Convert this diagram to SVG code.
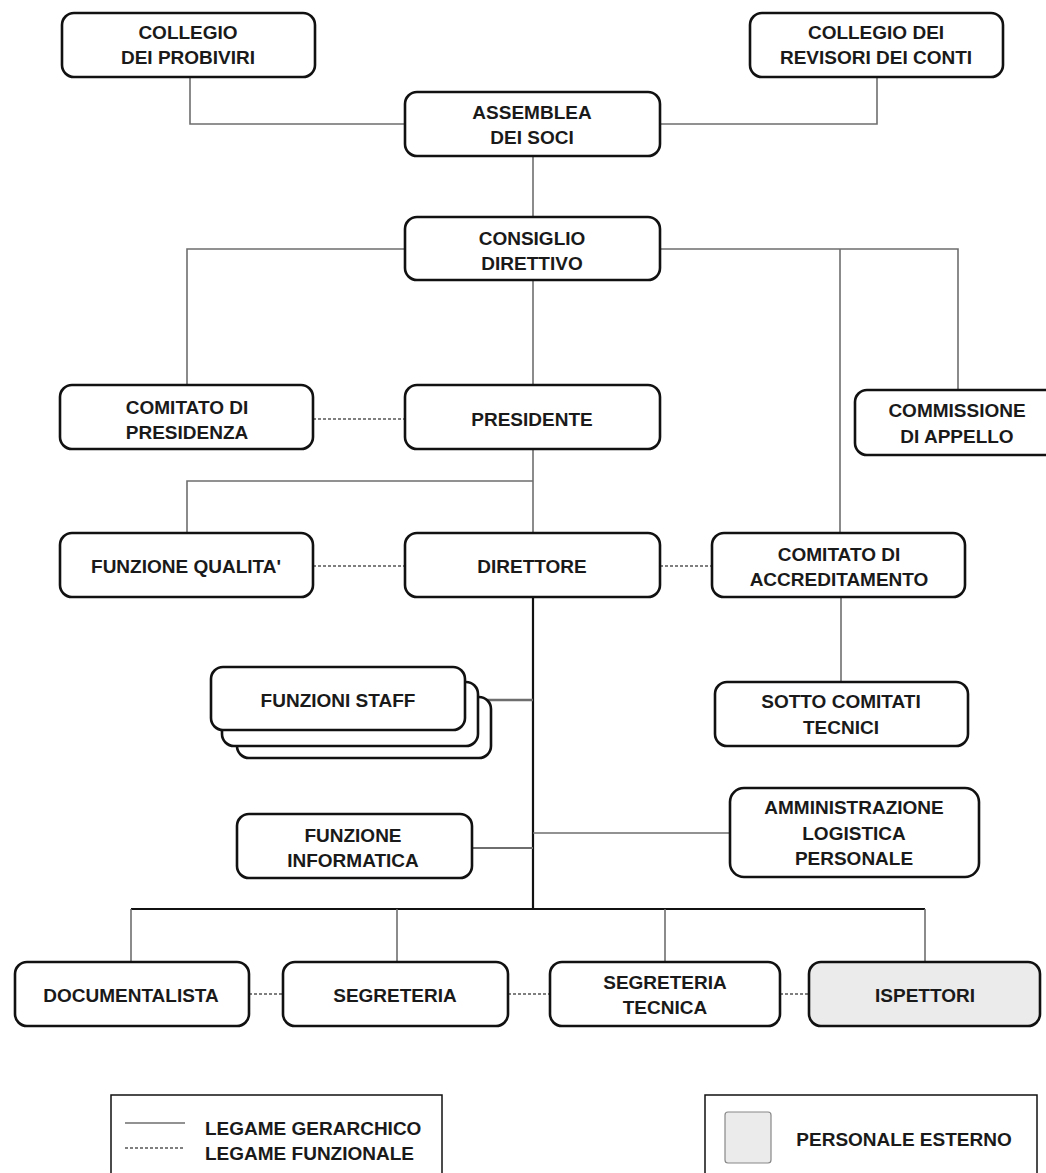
<svg xmlns="http://www.w3.org/2000/svg" width="1046" height="1173" viewBox="0 0 1046 1173">
<style>
.box{fill:#fff;stroke:#111;stroke-width:2.6}
.ext{fill:#ebebeb;stroke:#111;stroke-width:2.6}
.t{font-family:"Liberation Sans",Arial,sans-serif;font-weight:bold;font-size:19px;fill:#1a1a1a;text-anchor:middle}
.tl{font-family:"Liberation Sans",Arial,sans-serif;font-weight:bold;font-size:19px;fill:#1a1a1a}
.h{fill:none;stroke:#6e6e6e;stroke-width:1.6}
.hb{fill:none;stroke:#111;stroke-width:2.2}
.f{fill:none;stroke:#555;stroke-width:1.6;stroke-dasharray:3 2}
.leg{fill:#fff;stroke:#111;stroke-width:1.5}
</style>
<rect width="1046" height="1173" fill="#fff"/>
<g id="connectors">
<polyline class="h" points="190,77 190,124 405,124"/>
<polyline class="h" points="877,77 877,124 660,124"/>
<line class="h" x1="533" y1="156" x2="533" y2="217"/>
<polyline class="h" points="405,249 187,249 187,385"/>
<polyline class="h" points="660,249 958,249 958,390"/>
<line class="h" x1="840" y1="249" x2="840" y2="533"/>
<line class="h" x1="533" y1="280" x2="533" y2="385"/>
<line class="h" x1="533" y1="449" x2="533" y2="533"/>
<polyline class="h" points="533,481 187,481 187,533"/>
<line class="f" x1="313" y1="419" x2="405" y2="419"/>
<line class="f" x1="313" y1="566" x2="405" y2="566"/>
<line class="f" x1="660" y1="566" x2="712" y2="566"/>
<line class="h" x1="841" y1="597" x2="841" y2="682"/>
<line class="hb" x1="533" y1="597" x2="533" y2="910"/>
<line class="h" x1="465" y1="700" x2="533" y2="700" style="stroke-width:2.4"/>
<line class="h" x1="472" y1="848" x2="533" y2="848" style="stroke-width:2.2"/>
<line class="h" x1="533" y1="833" x2="730" y2="833"/>
<line class="hb" x1="131" y1="909" x2="925" y2="909" style="stroke-width:1.8"/>
<line class="h" x1="131" y1="909" x2="131" y2="962"/>
<line class="h" x1="397" y1="909" x2="397" y2="962"/>
<line class="h" x1="665" y1="909" x2="665" y2="962"/>
<line class="h" x1="925" y1="909" x2="925" y2="962"/>
<line class="f" x1="249" y1="994" x2="283" y2="994"/>
<line class="f" x1="508" y1="994" x2="550" y2="994"/>
<line class="f" x1="780" y1="994" x2="809" y2="994"/>
</g>
<g id="probiviri"><rect class="box" x="62" y="13" width="253" height="64" rx="12"/><text class="t" x="188" y="39">COLLEGIO</text><text class="t" x="188" y="64">DEI PROBIVIRI</text></g>
<g id="revisori"><rect class="box" x="750" y="13" width="253" height="64" rx="12"/><text class="t" x="876" y="39">COLLEGIO DEI</text><text class="t" x="876" y="64">REVISORI DEI CONTI</text></g>
<g id="assemblea"><rect class="box" x="405" y="92" width="255" height="64" rx="12"/><text class="t" x="532" y="119">ASSEMBLEA</text><text class="t" x="532" y="144">DEI SOCI</text></g>
<g id="consiglio"><rect class="box" x="405" y="217" width="255" height="63" rx="12"/><text class="t" x="532" y="245">CONSIGLIO</text><text class="t" x="532" y="270">DIRETTIVO</text></g>
<g id="comitato-presidenza"><rect class="box" x="60" y="385" width="253" height="64" rx="12"/><text class="t" x="187" y="414">COMITATO DI</text><text class="t" x="187" y="439">PRESIDENZA</text></g>
<g id="presidente"><rect class="box" x="405" y="385" width="255" height="64" rx="12"/><text class="t" x="532" y="426">PRESIDENTE</text></g>
<g id="commissione"><rect class="box" x="855" y="390" width="210" height="65" rx="12"/><text class="t" x="957" y="417">COMMISSIONE</text><text class="t" x="957" y="443">DI APPELLO</text></g>
<g id="qualita"><rect class="box" x="60" y="533" width="253" height="64" rx="12"/><text class="t" x="186" y="573">FUNZIONE QUALITA'</text></g>
<g id="direttore"><rect class="box" x="405" y="533" width="255" height="64" rx="12"/><text class="t" x="532" y="573">DIRETTORE</text></g>
<g id="accreditamento"><rect class="box" x="712" y="533" width="253" height="64" rx="12"/><text class="t" x="839" y="561">COMITATO DI</text><text class="t" x="839" y="586">ACCREDITAMENTO</text></g>
<g id="staff"><rect class="box" x="237" y="697" width="254" height="61" rx="12"/><rect class="box" x="222" y="682" width="256" height="64" rx="12"/><rect class="box" x="211" y="667" width="254" height="63" rx="12"/><text class="t" x="338" y="707">FUNZIONI STAFF</text></g>
<g id="sotto-comitati"><rect class="box" x="715" y="682" width="253" height="64" rx="12"/><text class="t" x="841" y="708">SOTTO COMITATI</text><text class="t" x="841" y="734">TECNICI</text></g>
<g id="informatica"><rect class="box" x="237" y="814" width="235" height="64" rx="12"/><text class="t" x="353" y="842">FUNZIONE</text><text class="t" x="353" y="867">INFORMATICA</text></g>
<g id="amministrazione"><rect class="box" x="730" y="788" width="249" height="89" rx="14"/><text class="t" x="854" y="814">AMMINISTRAZIONE</text><text class="t" x="854" y="840">LOGISTICA</text><text class="t" x="854" y="865">PERSONALE</text></g>
<g id="documentalista"><rect class="box" x="15" y="962" width="234" height="64" rx="12"/><text class="t" x="131" y="1002">DOCUMENTALISTA</text></g>
<g id="segreteria"><rect class="box" x="283" y="962" width="225" height="64" rx="12"/><text class="t" x="395" y="1002">SEGRETERIA</text></g>
<g id="segreteria-tecnica"><rect class="box" x="550" y="962" width="230" height="64" rx="12"/><text class="t" x="665" y="989">SEGRETERIA</text><text class="t" x="665" y="1014">TECNICA</text></g>
<g id="ispettori"><rect class="ext" x="809" y="962" width="231" height="64" rx="12"/><text class="t" x="925" y="1002">ISPETTORI</text></g>
<g id="legend-links"><rect class="leg" x="111" y="1095" width="331" height="90"/><line class="h" x1="125" y1="1123" x2="185" y2="1123"/><line class="f" x1="125" y1="1148" x2="185" y2="1148"/><text class="tl" x="205" y="1135">LEGAME GERARCHICO</text><text class="tl" x="205" y="1160">LEGAME FUNZIONALE</text></g>
<g id="legend-external"><rect class="leg" x="705" y="1095" width="332" height="90"/><rect x="725" y="1112" width="46" height="51" rx="3" fill="#ebebeb" stroke="#888" stroke-width="1.2"/><text class="t" x="904" y="1146">PERSONALE ESTERNO</text></g>
</svg>
